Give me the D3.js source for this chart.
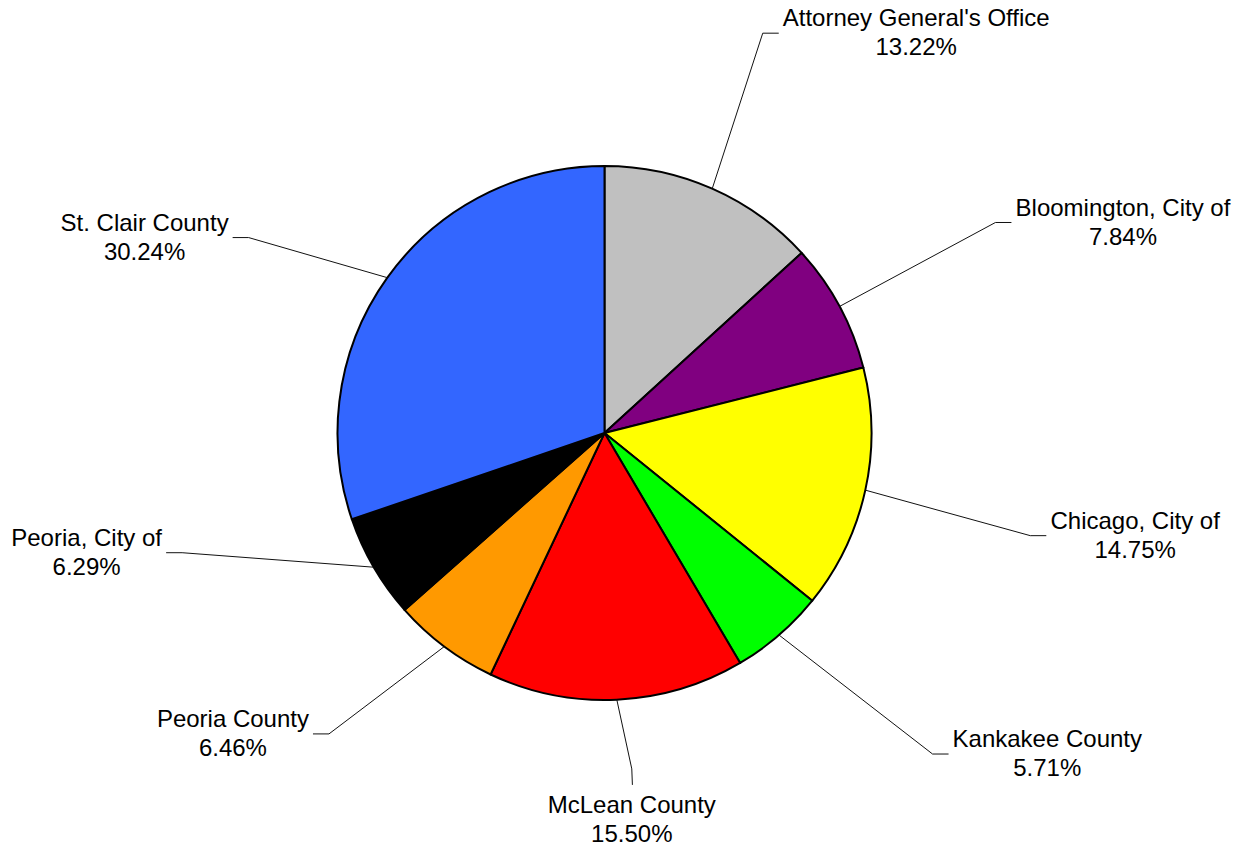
<!DOCTYPE html>
<html>
<head>
<meta charset="utf-8">
<script src="https://cdn.jsdelivr.net/npm/d3@7"></script>
<style>
  html, body { margin: 0; padding: 0; background: #fff; }
  svg { display: block; }
  text { font-family: "Liberation Sans", Arial, sans-serif; fill: #000; }
</style>
</head>
<body>
<div id="chart"></div>
<script>
// data
const categories = ["Attorney General's Office", "Bloomington, City of", "Chicago, City of",
  "Kankakee County", "McLean County", "Peoria County", "Peoria, City of", "St. Clair County"];
const shares = [13.22, 7.84, 14.75, 5.71, 15.50, 6.46, 6.29, 30.24];
const sliceColors = ["#C0C0C0", "#800080", "#FFFF00", "#00FF00", "#FF0000", "#FF9900", "#000000", "#3366FF"];

// label layout: shift from the slice mid-angle (degrees) and elbow radius (px)
const labelShift = [-2.2, 0, 1.2, -4.8, -2.0, 5.6, 14.35, -6.8];
const labelRadius = [430, 444, 438, 459, 337, 408, 439, 406];

const width = 1241, height = 847;
const cx = 604.5, cy = 433, R = 267;
const tail = 16, gap = 4, fontSize = 24, lineGap = 29;

const svg = d3.select("#chart").append("svg")
    .attr("width", width)
    .attr("height", height);

const g = svg.append("g").attr("transform", `translate(${cx},${cy})`);

const pie = d3.pie().sort(null).value(d => d);
const arcs = pie(shares);
const arc = d3.arc().innerRadius(0).outerRadius(R);

g.selectAll("path.slice")
    .data(arcs)
    .enter().append("path")
    .attr("class", "slice")
    .attr("d", arc)
    .attr("fill", (d, i) => sliceColors[i])
    .attr("stroke", "#000")
    .attr("stroke-width", 2)
    .attr("stroke-linejoin", "round");

const line = d3.line();
const labels = g.append("g");

arcs.forEach((d, i) => {
    const mid = (d.startAngle + d.endAngle) / 2;
    const start = d3.pointRadial(mid, R);
    const la = mid + labelShift[i] * Math.PI / 180;
    const elbow = d3.pointRadial(la, labelRadius[i]);
    const deg = (la * 180 / Math.PI) % 360;
    const bottom = Math.abs(deg - 180) < 15;
    const right = elbow[0] >= 0;

    let end;
    if (bottom) end = [elbow[0] + 0.6, elbow[1] + tail];
    else end = [elbow[0] + (right ? tail : -tail), elbow[1]];

    labels.append("path")
        .attr("d", line([start, elbow, end]))
        .attr("fill", "none")
        .attr("stroke", "#111")
        .attr("stroke-width", 1);

    const t = labels.append("text")
        .attr("font-size", fontSize)
        .attr("text-anchor", "middle");
    t.append("tspan").attr("x", 0).attr("y", 0).text(categories[i]);
    t.append("tspan").attr("x", 0).attr("y", lineGap).text(shares[i].toFixed(2) + "%");

    // block width = widest of the two lines
    const w = t.node().getBBox().width;
    let tx, y1;
    if (bottom) {
        tx = elbow[0];
        y1 = end[1] + 28;
    } else {
        tx = right ? end[0] + gap + w / 2 : end[0] - gap - w / 2;
        y1 = end[1] - 7;
    }
    t.selectAll("tspan")
        .attr("x", tx)
        .attr("y", (s, j) => y1 + j * lineGap);
});
</script>
</body>
</html>
